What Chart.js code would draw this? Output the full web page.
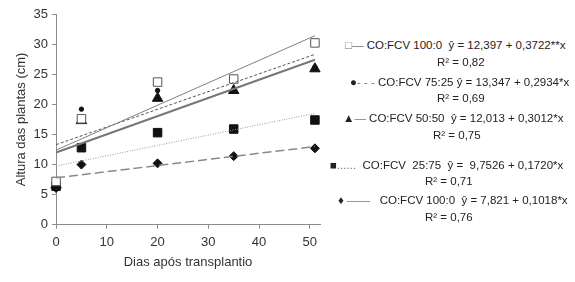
<!DOCTYPE html>
<html>
<head>
<meta charset="utf-8">
<script src="https://cdn.jsdelivr.net/npm/chart.js@4.4.1/dist/chart.umd.min.js"></script>
<style>
  body { margin: 0; background: #fff; }
  #wrap { position: relative; width: 575px; height: 282px; font-family: "Liberation Sans", sans-serif; color: #222; }
  #c { position: absolute; left: 0; top: 0; }
  .lg { position: absolute; font-size: 11.5px; white-space: pre; line-height: 13px; }
  .mk { color: #777; }
</style>
</head>
<body>
<div id="wrap">
  <canvas id="c" width="340" height="282"></canvas>
  <div class="lg" style="left:345px; top:39px;"><span class="mk">□—</span> CO:FCV 100:0  ŷ = 12,397 + 0,3722**x</div>
  <div class="lg" style="left:437px; top:56px;">R² = 0,82</div>
  <div class="lg" style="left:350px; top:76px;">●<span class="mk">- - -</span> CO:FCV 75:25 ŷ = 13,347 + 0,2934*x</div>
  <div class="lg" style="left:437px; top:92px;">R² = 0,69</div>
  <div class="lg" style="left:343px; top:112px;">▲<span class="mk">—</span> CO:FCV 50:50  ŷ = 12,013 + 0,3012*x</div>
  <div class="lg" style="left:433px; top:129px;">R² = 0,75</div>
  <div class="lg" style="left:330px; top:159px;">■<span class="mk">......</span>  CO:FCV  25:75  ŷ =  9,7526 + 0,1720*x</div>
  <div class="lg" style="left:425px; top:175px;">R² = 0,71</div>
  <div class="lg" style="left:338px; top:194px;">♦ <span class="mk">——</span>   CO:FCV 100:0  ŷ = 7,821 + 0,1018*x</div>
  <div class="lg" style="left:425px; top:211px;">R² = 0,76</div>
</div>
<script>
// dias apos transplantio
const days = [0, 5, 20, 35, 51];

// observed heights (cm)
const co100 = [7.2, 17.6, 23.7, 24.2, 30.2];
const co75 = [7.0, 19.2, 22.3, 24.2, 26.2];
const co50 = [6.6, 17.3, 21.0, 22.3, 25.9];
const co25 = [6.4, 12.8, 15.3, 15.9, 17.4];
const co0 = [6.1, 10.0, 10.2, 11.4, 12.7];

// trend line ends read at x = 0 and x = 51
const trendX = [0, 51];
const trend100 = [12.4, 31.4];
const trend75 = [13.3, 28.3];
const trend50 = [12.0, 27.4];
const trend25 = [9.75, 18.5];
const trend0 = [7.8, 13.0];

const xTicks = [0, 10, 20, 30, 40, 50];
const yTicks = [0, 5, 10, 15, 20, 25, 30, 35];

const pts = (ys) => ys.map((y, i) => ({ x: days[i], y: y }));
const line = (ys) => ys.map((y, i) => ({ x: trendX[i], y: y }));

function trendSet(ys, color, width, dash) {
  return {
    type: 'line', data: line(ys), borderColor: color, borderWidth: width,
    borderDash: dash, pointRadius: 0, fill: false, clip: false
  };
}

const axisColor = '#8c8c8c';
const tickFont = { family: 'Liberation Sans', size: 13 };

new Chart(document.getElementById('c').getContext('2d'), {
  type: 'scatter',
  data: {
    datasets: [
      trendSet(trend100, '#808080', 1, []),
      trendSet(trend75, '#555555', 1, [3, 2]),
      trendSet(trend50, '#777777', 2, []),
      trendSet(trend25, '#999999', 1, [1, 1.5]),
      trendSet(trend0, '#8a8a8a', 1.5, [9, 4]),
      { data: pts(co100), clip: false, pointStyle: 'rect', pointRadius: 6, backgroundColor: '#fff', borderColor: '#555', borderWidth: 1 },
      { data: pts(co75), clip: false, pointStyle: 'circle', pointRadius: 2.2, backgroundColor: '#111', borderColor: '#111' },
      { data: pts(co50), clip: false, pointStyle: 'triangle', pointRadius: 6, backgroundColor: '#111', borderColor: '#111' },
      { data: pts(co25), clip: false, pointStyle: 'rect', pointRadius: 6, backgroundColor: '#111', borderColor: '#111' },
      { data: pts(co0), clip: false, pointStyle: 'rectRot', pointRadius: 4.5, backgroundColor: '#111', borderColor: '#111' }
    ]
  },
  options: {
    responsive: false,
    animation: false,
    layout: { padding: { top: 14, right: 20, left: 10, bottom: 12 } },
    plugins: { legend: { display: false }, tooltip: { enabled: false } },
    scales: {
      x: {
        type: 'linear', min: 0, max: 52,
        afterBuildTicks: (ax) => { ax.ticks = xTicks.map(v => ({ value: v })); },
        ticks: { color: '#333', font: tickFont, padding: 6 },
        grid: { drawOnChartArea: false, drawTicks: true, tickLength: 4, color: axisColor },
        border: { color: axisColor },
        title: { display: true, text: 'Dias após transplantio', color: '#333', font: { family: 'Liberation Sans', size: 13 }, padding: { top: -2, bottom: 0 } }
      },
      y: {
        min: 0, max: 35,
        afterBuildTicks: (ax) => { ax.ticks = yTicks.map(v => ({ value: v })); },
        ticks: { color: '#333', font: tickFont, padding: 4 },
        grid: { drawOnChartArea: false, drawTicks: true, tickLength: 4, color: axisColor },
        border: { color: axisColor },
        title: { display: true, text: 'Altura das plantas (cm)', color: '#333', font: { family: 'Liberation Sans', size: 13 }, padding: { bottom: 0 } }
      }
    }
  }
});
</script>
</body>
</html>
